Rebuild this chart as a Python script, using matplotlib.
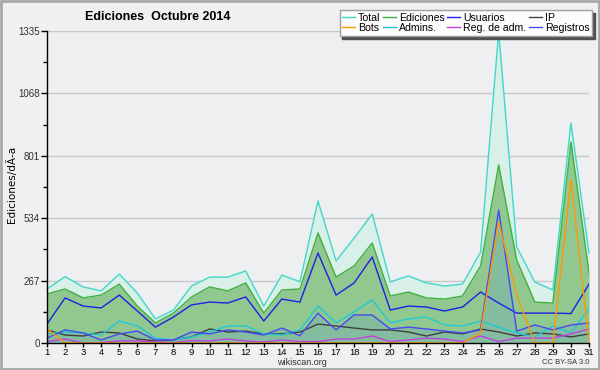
import matplotlib
matplotlib.use("Agg")
import matplotlib.pyplot as plt
from matplotlib.ticker import MultipleLocator, FixedLocator
from matplotlib.patches import Rectangle

days = list(range(1, 32))
total = [231, 284, 240, 223, 295, 214, 103, 141, 244, 282, 282, 308, 158, 291, 262,
         608, 351, 449, 552, 261, 287, 257, 244, 252, 389, 1331, 411, 261, 227, 941, 385]
ediciones = [210, 231, 193, 205, 252, 158, 86, 128, 197, 240, 223, 257, 128, 227, 231,
             471, 282, 330, 428, 201, 218, 193, 188, 201, 330, 762, 355, 175, 171, 860, 300]
usuarios = [81, 193, 158, 150, 205, 137, 68, 111, 163, 175, 171, 197, 94, 188, 175,
            385, 205, 257, 368, 141, 158, 154, 137, 154, 218, 171, 128, 128, 128, 126, 252]
ip = [56, 34, 30, 47, 43, 17, 9, 13, 26, 60, 47, 51, 39, 39, 47,
      81, 73, 64, 56, 56, 47, 30, 47, 39, 60, 47, 30, 43, 39, 26, 39]
bots = [60, 0, 0, 0, 0, 0, 0, 0, 0, 0, 0, 0, 0, 0, 0,
        0, 0, 0, 0, 0, 0, 0, 0, 0, 43, 518, 205, 0, 0, 698, 0]
admins = [39, 47, 43, 34, 94, 73, 21, 13, 26, 47, 73, 73, 39, 34, 56,
          158, 86, 133, 184, 86, 103, 111, 77, 73, 94, 68, 43, 26, 73, 43, 146]
reg_adm = [6, 17, 0, 2, 9, 9, 4, 2, 10, 9, 17, 9, 4, 13, 6,
           6, 17, 17, 30, 6, 13, 21, 17, 6, 30, 6, 21, 21, 21, 39, 60]
registros = [21, 56, 43, 13, 39, 51, 13, 13, 47, 39, 56, 47, 34, 64, 31,
             128, 56, 120, 120, 60, 68, 60, 51, 43, 56, 569, 51, 77, 56, 77, 86]

y_major = [0, 267, 534, 801, 1068, 1335]
title = "Ediciones  Octubre 2014"
ylabel = "Ediciones/dÃ\u00ada"

plt.rcParams['font.family'] = ['Liberation Sans', 'DejaVu Sans']

fig = plt.figure(figsize=(6, 3.7), dpi=100, facecolor='#f0f0f0')
ax = fig.add_axes([47/600, 27/370, 542/600, 312/370])
ax.set_facecolor('#eeeff1')

ax.fill_between(days, total, 0, color='#d8f0e8', lw=0, zorder=1)
ax.fill_between(days, ediciones, 0, color='#90c890', lw=0, zorder=2)
ax.fill_between(days, registros, 0, color='#84bca0', lw=0, zorder=3)

lw = 1.0
l_total, = ax.plot(days, total, color='#40d8c8', lw=lw, zorder=5, label='Total', clip_on=False)
l_ed, = ax.plot(days, ediciones, color='#40b040', lw=lw, zorder=5, label='Ediciones')
l_us, = ax.plot(days, usuarios, color='#2020e0', lw=lw, zorder=6, label='Usuarios')
l_ip, = ax.plot(days, ip, color='#404040', lw=lw, zorder=6, label='IP')
l_adm, = ax.plot(days, admins, color='#20c8d8', lw=lw, zorder=6, label='Admins.')
l_reg, = ax.plot(days, reg_adm, color='#c040e0', lw=lw, zorder=6, label='Reg. de adm.')
l_rg, = ax.plot(days, registros, color='#4848f0', lw=lw, zorder=7, label='Registros')
l_bots, = ax.plot(days, bots, color='#ff9900', lw=lw, zorder=7, label='Bots')

ax.set_xlim(1, 31)
ax.set_ylim(0, 1335)
ax.xaxis.set_major_locator(FixedLocator(days))
ax.yaxis.set_major_locator(FixedLocator(y_major))
ax.yaxis.set_minor_locator(MultipleLocator(133.5))
ax.grid(axis='y', which='major', color='#c8c8c8', lw=1, zorder=0)
ax.set_axisbelow(True)
for s in ['top', 'right']:
    ax.spines[s].set_visible(False)
for s in ['left', 'bottom']:
    ax.spines[s].set_color('black')
    ax.spines[s].set_linewidth(1)
    ax.spines[s].set_zorder(10)
ax.tick_params(axis='y', which='major', length=4, width=1, labelsize=7, pad=1,
               colors='black', labelcolor='#303030')
ax.tick_params(axis='y', which='minor', length=3, width=1)
ax.tick_params(axis='x', which='major', length=3, width=1, labelsize=6.8, pad=0.5, colors='black')

fig.text(158/600, 1 - 17/370, title, ha='center', va='center', fontsize=9, fontweight='bold')
fig.text(12/600, 1 - 184/370, ylabel, rotation=90, ha='center', va='center', fontsize=7.5,
         family=['DejaVu Sans'])
fig.text(302/600, 1 - 362.5/370, "wikiscan.org", ha='center', va='center', fontsize=6.5, color='#303030')
fig.text(589/600, 1 - 362.5/370, "CC BY-SA 3.0", ha='right', va='center', fontsize=5.5, color='#303030')

handles = [l_total, l_bots, l_ed, l_adm, l_us, l_reg, l_ip, l_rg]
leg = fig.legend(handles=handles, labels=[h.get_label() for h in handles], ncol=4,
                 loc='upper right', bbox_to_anchor=(592/600, 1 - 10/370),
                 fontsize=7.6, frameon=True, fancybox=False, shadow={'color': '#505050', 'alpha': 1},
                 handlelength=1.2, handletextpad=0.3, columnspacing=0.25, labelspacing=0.05,
                 borderpad=0.25, borderaxespad=0)
leg.get_frame().set_facecolor('#fcfcfc')
leg.get_frame().set_edgecolor('#a0a0a0')
leg.get_frame().set_linewidth(1)
leg.set_zorder(20)

fig.patches.append(Rectangle((0.0015, 0.0025), 0.997, 0.995, transform=fig.transFigure,
                             fill=False, edgecolor='#a8a8a8', lw=2))

fig.savefig("out.png", dpi=100, facecolor=fig.get_facecolor())
